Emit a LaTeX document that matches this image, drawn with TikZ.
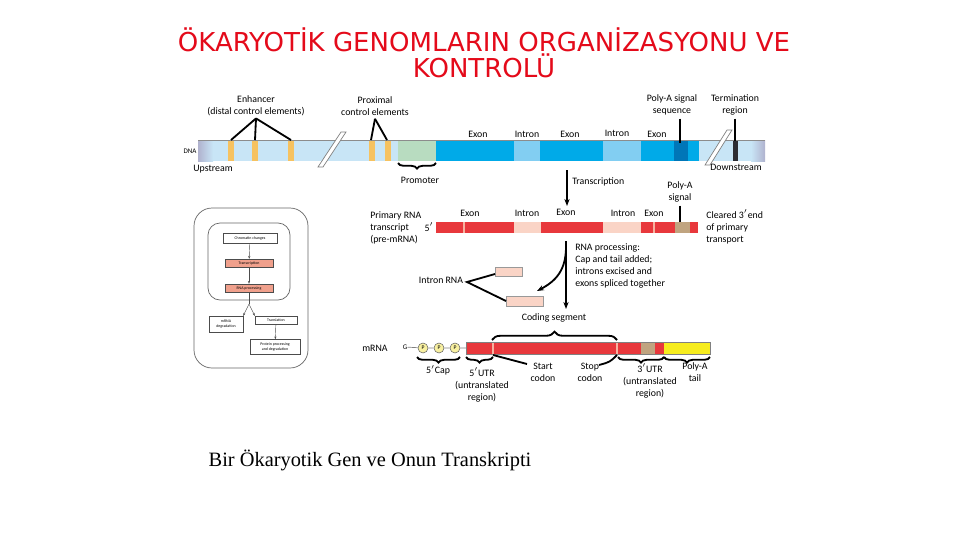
\documentclass[tikz,border=0pt]{standalone}
\usepackage{fontspec}
\setmainfont{Carlito}
\newfontfamily\titlefont{DejaVu Sans}
\newfontfamily\capfont{Liberation Serif}
\usetikzlibrary{decorations.pathreplacing,arrows.meta}
\definecolor{titlered}{RGB}{228,10,26}
\definecolor{dnablue}{RGB}{200,229,246}
\definecolor{dnaend}{RGB}{176,178,206}
\definecolor{exonblue}{RGB}{0,170,232}
\definecolor{intronblue}{RGB}{130,206,242}
\definecolor{polyblue}{RGB}{0,118,184}
\definecolor{termgray}{RGB}{44,44,50}
\definecolor{bandorange}{RGB}{246,194,96}
\definecolor{promgreen}{RGB}{184,220,192}
\definecolor{rnared}{RGB}{232,56,60}
\definecolor{rnalight}{RGB}{246,178,160}
\definecolor{intronpink}{RGB}{250,212,198}
\definecolor{tanbox}{RGB}{192,164,128}
\definecolor{polyyellow}{RGB}{246,236,30}
\definecolor{pfill}{RGB}{248,240,160}
\definecolor{salmon}{RGB}{240,160,140}

\begin{document}
\begin{tikzpicture}[x=0.025cm,y=-0.025cm,
  lbl/.style={font=\fontsize{7}{8.6}\selectfont,align=center,inner sep=0pt},
  lbll/.style={lbl,align=left,anchor=west},
  flowbox/.style={draw=black!70,line width=0.3pt,font=\fontsize{2.8}{3.2}\selectfont,align=center,inner sep=0.5pt},
  pcirc/.style={circle,draw=black!60,fill=pfill,line width=0.4pt,minimum size=0.25cm,inner sep=0pt,font=\fontsize{4}{4}\selectfont},
  blk/.style={line width=1.3pt},
  brcup/.style={decorate,decoration={brace,amplitude=6pt},line width=1.3pt},
  brcdown/.style={decorate,decoration={brace,mirror,amplitude=4pt},line width=1.3pt}]
\useasboundingbox (0,0) rectangle (960,540);

\node[text=titlered,font=\titlefont\fontsize{18.5}{18.4}\selectfont,align=center] (title) at (484,53) {ÖKARYOTİK GENOMLARIN ORGANİZASYONU VE\\KONTROLÜ};

\fill[dnablue] (212,140) rectangle (752,161);
\shade[left color=dnaend,right color=dnablue] (198,140) rectangle (213,161);
\shade[left color=dnablue,right color=dnaend] (751,140) rectangle (765,161);
\foreach \x in {228,252,288,369,385} \fill[bandorange] (\x,140) rectangle ++(6,21);
\fill[promgreen] (398,140) rectangle (436,161);
\fill[exonblue] (436,140) rectangle (699,161);
\fill[intronblue] (514,140) rectangle (540,161);
\fill[intronblue] (603,140) rectangle (641,161);
\fill[polyblue] (674,140) rectangle (688,161);
\fill[termgray] (733,140) rectangle (738,161);
\draw[black!45,line width=0.6pt] (198,140) -- (765,140);
\filldraw[fill=white,draw=gray,line width=0.5pt] (318,167) -- (341,132) -- (346,132) -- (323,167) -- cycle;
\filldraw[fill=white,draw=gray,line width=0.5pt] (705,165) -- (727,130) -- (732,130) -- (710,165) -- cycle;

\node[lbl] (enh) at (256,106) {Enhancer\\(distal control elements)};
\draw[blk] (enh.south) ++(0,2) coordinate (enhtop) -- (231,140);
\draw[blk] (enhtop) -- (255,140);
\draw[blk] (enhtop) -- (291,140);
\node[lbl] (prox) at (375,106) {Proximal\\control elements};
\draw[blk] (prox.south) ++(0,3) coordinate (proxtop) -- (371,140);
\draw[blk] (proxtop) -- (387,140);
\node[lbl] (polyseq) at (672,105) {Poly-A signal\\sequence};
\coordinate (pa) at (680,143);
\draw[blk] (pa |- polyseq.south) ++(0,3) -- (pa);
\node[lbl] (term) at (735,105) {Termination\\region};
\coordinate (tr) at (735,141);
\draw[blk] (tr |- term.south) ++(0,3) -- (tr);
\node[lbl] (ex1) at (478,134) {Exon};
\node[lbl] (in1) at (527,134) {Intron};
\node[lbl] (ex2) at (570,134) {Exon};
\node[lbl] (in2) at (617,133) {Intron};
\node[lbl] (ex3) at (657,134) {Exon};
\node[lbl,font=\fontsize{5}{6}\selectfont] (dna) at (190,151) {DNA};
\node[lbl] (up) at (213,169) {Upstream};
\node[lbl] (down) at (736,167) {Downstream};
\draw[brcdown] (398,163) -- (436,163);
\node[lbl] (prom) at (420,180) {Promoter};

\node[lbll] (trlbl) at (572,182) {Transcription};
\draw[blk,-{Stealth[length=5pt]}] (567,170) -- (567,206);
\node[lbl] (pasig) at (680,192) {Poly-A\\signal};
\coordinate (pb) at (680,222);
\draw[blk] (pasig.south) ++(0,3) -- (pb);

\node[lbll] (pre) at (370,228) {Primary RNA\\transcript\\(pre-mRNA)};
\node[lbl] (five) at (429,227) {5$'$};
\fill[rnared] (436,222) rectangle (698,233);
\fill[rnalight] (463,222) rectangle (465,233);
\fill[intronpink] (514,222) rectangle (541,233);
\fill[intronpink] (603,222) rectangle (641,233);
\fill[rnalight] (653,222) rectangle (655,233);
\fill[tanbox] (675,222) rectangle (690,233);
\node[lbl] (pex1) at (470,213) {Exon};
\node[lbl] (pin1) at (527,213) {Intron};
\node[lbl] (pex2) at (566,212) {Exon};
\node[lbl] (pin2) at (623,213) {Intron};
\node[lbl] (pex3) at (654,213) {Exon};
\node[lbll] (clr) at (706,227) {Cleared 3$'$end\\of primary\\transport};

\draw[blk,-{Stealth[length=5pt]}] (566,241) -- (566,309);
\draw[blk,-{Stealth[length=5pt]}] (566,247) .. controls (566,270) and (556,281) .. (537,291);
\node[lbll] (proc) at (575,266) {RNA processing:\\Cap and tail added;\\introns excised and\\exons spliced together};
\draw[draw=black!40,fill=intronpink,line width=0.3pt] (495,267) rectangle (522,276);
\draw[draw=black!40,fill=intronpink,line width=0.3pt] (506,296) rectangle (543,306);
\node[lbl] (irna) at (441,280) {Intron RNA};
\coordinate (iv) at (467,282);
\draw[blk] (495,274) -- (iv) -- (506,301);

\node[lbl] (coding) at (554,318) {Coding segment};
\draw[brcup] (492,340) -- (617,340);
\node[lbl] (mrna) at (375,348) {mRNA};
\node[lbl,font=\fontsize{5}{6}\selectfont] (g) at (405,347) {G};
\node[pcirc] (p1) at (423,348) {P};
\node[pcirc] (p2) at (439,348) {P};
\node[pcirc] (p3) at (455,348) {P};
\coordinate (mstart) at (466,348);
\draw[gray,line width=0.5pt] (g) -- (p1) -- (p2) -- (p3) -- (mstart);
\fill[rnared] (466,342) rectangle (664,354);
\fill[rnalight] (492,342) rectangle (494,354);
\fill[rnalight] (616,342) rectangle (618,354);
\fill[tanbox] (641,342) rectangle (655,354);
\fill[polyyellow] (664,342) rectangle (710,354);
\draw[black!50,line width=0.3pt] (466,342) rectangle (710,354);
\draw[brcdown] (417,357) -- (460,357);
\draw[brcdown] (466,357) -- (493,357);
\draw[brcdown] (618,357) -- (664,357);
\draw[brcdown] (664,357) -- (710,357);
\node[lbl] (cap5) at (438,370) {5$'$Cap};
\node[lbl] (utr5) at (482,385) {5$'$UTR\\(untranslated\\region)};
\node[lbl] (start) at (543,372) {Start\\codon};
\node[lbl] (stop) at (590,372) {Stop\\codon};
\node[lbl] (utr3) at (650,381) {3$'$UTR\\(untranslated\\region)};
\node[lbl] (tail) at (695,372) {Poly-A\\tail};
\draw[blk] (493,355) -- (527,364);
\draw[blk] (617,355) .. controls (610,362) .. (599,365);

\draw[black!60,line width=0.5pt,rounded corners=0.45cm] (194,208) rectangle (308,368);
\draw[black!60,line width=0.5pt,rounded corners=0.3cm] (208,223) rectangle (290,300);
\node[flowbox,fill=white,minimum width=1.35cm,minimum height=0.25cm] (chrom) at (250,238) {Chromatin changes};
\node[flowbox,fill=salmon,minimum width=1.2cm,minimum height=0.2cm] (trans) at (249,263) {Transcription};
\node[flowbox,fill=salmon,minimum width=1.2cm,minimum height=0.2cm] (rnap) at (249,288) {RNA processing};
\node[flowbox,fill=white,minimum width=0.85cm,minimum height=0.4cm] (mdeg) at (226,324) {mRNA\\degradation};
\node[flowbox,fill=white,minimum width=1.05cm,minimum height=0.2cm] (transl) at (276,320) {Translation};
\node[flowbox,fill=white,minimum width=1.25cm,minimum height=0.375cm] (prot) at (275,347) {Protein processing\\and degradation};
\draw[black!70,line width=0.3pt,-{Stealth[length=2pt]}] (chrom) -- (trans);
\draw[black!70,line width=0.3pt,-{Stealth[length=2pt]}] (trans) -- (rnap);
\coordinate (split) at (249,304);
\draw[black!70,line width=0.3pt] (rnap) -- (split);
\draw[black!70,line width=0.3pt,-{Stealth[length=2pt]}] (split) -- (mdeg.north east);
\draw[black!70,line width=0.3pt,-{Stealth[length=2pt]}] (split) -- (transl.north west);
\draw[black!70,line width=0.3pt,-{Stealth[length=2pt]}] (transl) -- (prot);

\node[font=\capfont\fontsize{14.5}{17}\selectfont] (caption) at (370,460) {Bir Ökaryotik Gen ve Onun Transkripti};
\end{tikzpicture}
\end{document}
